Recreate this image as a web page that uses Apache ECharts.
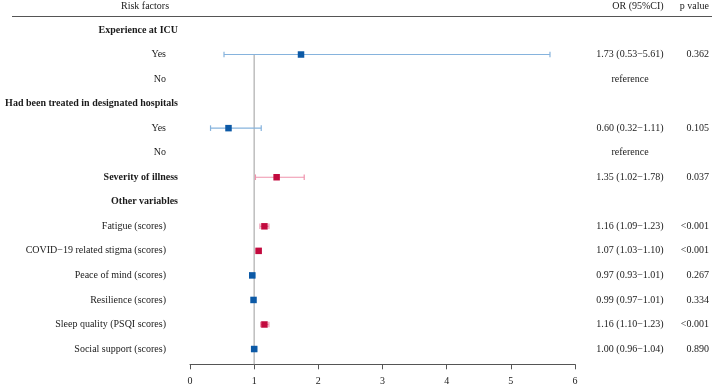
<!DOCTYPE html>
<html>
<head>
<meta charset="utf-8">
<script src="https://cdn.jsdelivr.net/npm/echarts@6/dist/echarts.min.js"></script>
<style>html,body{margin:0;padding:0;background:#fff}#c{width:712px;height:389px}</style>
</head>
<body>
<div id="c"></div>
<script>
// ---- data ----
var rowLabels = ['Experience at ICU', 'Yes', 'No', 'Had been treated in designated hospitals', 'Yes', 'No',
  'Severity of illness', 'Other variables', 'Fatigue (scores)', 'COVID\u221219 related stigma (scores)',
  'Peace of mind (scores)', 'Resilience (scores)', 'Sleep quality (PSQI scores)', 'Social support (scores)'];
var rowBold = [true, false, false, true, false, false, true, true, false, false, false, false, false, false];
var orValues = [null, 1.73, null, null, 0.60, null, 1.35, null, 1.16, 1.07, 0.97, 0.99, 1.16, 1.00];
var ciLower  = [null, 0.53, null, null, 0.32, null, 1.02, null, 1.09, 1.03, 0.93, 0.97, 1.10, 0.96];
var ciUpper  = [null, 5.61, null, null, 1.11, null, 1.78, null, 1.23, 1.10, 1.01, 1.01, 1.23, 1.04];
var orText = ['', '1.73 (0.53\u22125.61)', 'reference', '', '0.60 (0.32\u22121.11)', 'reference',
  '1.35 (1.02\u22121.78)', '', '1.16 (1.09\u22121.23)', '1.07 (1.03\u22121.10)', '0.97 (0.93\u22121.01)',
  '0.99 (0.97\u22121.01)', '1.16 (1.10\u22121.23)', '1.00 (0.96\u22121.04)'];
var pText = ['', '0.362', '', '', '0.105', '', '0.037', '', '<0.001', '<0.001', '0.267', '0.334', '<0.001', '0.890'];
var headerTexts = ['Risk factors', 'OR (95%CI)', 'p value'];
var xTicks = [0, 1, 2, 3, 4, 5, 6];
var refValue = 1;

// ---- styling ----
var FONT = 'Liberation Serif';
var TXT = '#1a1a1a';
var BLUE = '#0c59a6', BLUE_L = '#86b3dd';
var RED = '#c20a3e', RED_L = '#ef93ad';

function isSig(i) {
  var s = pText[i];
  if (!s) return false;
  return parseFloat(s.replace('<', '')) < 0.05;
}

var cats = rowLabels.map(function (_, i) { return String(i); });
var pointData = [], ciData = [];
for (var i = 0; i < rowLabels.length; i++) {
  if (orValues[i] == null) continue;
  var sig = isSig(i);
  pointData.push({ value: [orValues[i], i], itemStyle: { color: sig ? RED : BLUE, opacity: 1 } });
  ciData.push([i, ciLower[i], ciUpper[i], sig ? 1 : 0]);
}

var chart = echarts.init(document.getElementById('c'), null, { renderer: 'canvas' });
var hdrFont = '10px "Liberation Serif"';
var option = {
  animation: false,
  textStyle: { fontFamily: FONT },
  grid: { left: 190, right: 137, top: 17.7, bottom: 27.7, containLabel: false },
  xAxis: {
    type: 'value', min: xTicks[0], max: xTicks[xTicks.length - 1], interval: 1,
    offset: 3,
    axisLine: { show: true, lineStyle: { color: '#555', width: 1 } },
    axisTick: { show: true, length: 5, lineStyle: { color: '#555' } },
    axisLabel: { color: TXT, fontFamily: FONT, fontSize: 10, margin: 12 },
    splitLine: { show: false }
  },
  yAxis: [
    {
      type: 'category', data: cats, inverse: true, position: 'left',
      axisLine: { show: false }, axisTick: { show: false }, splitLine: { show: false },
      axisLabel: {
        interval: 0, margin: 12, align: 'right',
        formatter: function (v) { var k = +v; return rowBold[k] ? '{b|' + rowLabels[k] + '}' : '{r|' + rowLabels[k] + '}'; },
        rich: {
          b: { fontFamily: FONT, fontSize: 10, fontWeight: 'bold', color: TXT },
          r: { fontFamily: FONT, fontSize: 10, color: TXT, padding: [0, 12, 0, 0] }
        }
      }
    },
    {
      type: 'category', data: cats, inverse: true, position: 'right', offset: 0,
      axisLine: { show: false }, axisTick: { show: false }, splitLine: { show: false },
      axisLabel: {
        interval: 0, margin: 55, align: 'center', color: TXT, fontFamily: FONT, fontSize: 10,
        formatter: function (v) { return orText[+v]; }
      }
    },
    {
      type: 'category', data: cats, inverse: true, position: 'right', offset: 0,
      axisLine: { show: false }, axisTick: { show: false }, splitLine: { show: false },
      axisLabel: {
        interval: 0, margin: 134, align: 'right', color: TXT, fontFamily: FONT, fontSize: 10,
        formatter: function (v) { return pText[+v]; }
      }
    }
  ],
  graphic: [
    { type: 'text', x: 145, y: 6, style: { text: headerTexts[0], fill: TXT, font: hdrFont, align: 'center', verticalAlign: 'middle' } },
    { type: 'text', x: 638, y: 6, style: { text: headerTexts[1], fill: TXT, font: hdrFont, align: 'center', verticalAlign: 'middle' } },
    { type: 'text', x: 709, y: 6, style: { text: headerTexts[2], fill: TXT, font: hdrFont, align: 'right', verticalAlign: 'middle' } },
    { type: 'line', shape: { x1: 12, y1: 16.5, x2: 712, y2: 16.5 }, style: { stroke: '#555', lineWidth: 1 } }
  ],
  series: [
    {
      type: 'custom', name: 'ref', silent: true, z: 1,
      data: [[refValue]],
      renderItem: function (params, api) {
        var top = api.coord([api.value(0), 0.5]);
        var cs = params.coordSys;
        return { type: 'line', shape: { x1: top[0], y1: top[1], x2: top[0], y2: cs.y + cs.height + 3 },
          style: { stroke: '#b3b3b3', lineWidth: 1.3 } };
      }
    },
    {
      type: 'custom', name: 'CI', silent: true, z: 2,
      encode: { x: [1, 2], y: 0 },
      data: ciData,
      renderItem: function (params, api) {
        var y = api.value(0), lo = api.value(1), hi = api.value(2), sig = api.value(3);
        var a = api.coord([lo, y]), b = api.coord([hi, y]);
        var st = { stroke: sig ? RED_L : BLUE_L, lineWidth: 1.2 };
        var h = 2.8;
        return { type: 'group', children: [
          { type: 'line', shape: { x1: a[0], y1: a[1], x2: b[0], y2: b[1] }, style: st },
          { type: 'line', shape: { x1: a[0], y1: a[1] - h, x2: a[0], y2: a[1] + h }, style: st },
          { type: 'line', shape: { x1: b[0], y1: b[1] - h, x2: b[0], y2: b[1] + h }, style: st }
        ] };
      }
    },
    {
      type: 'scatter', name: 'OR', z: 3, symbol: 'rect', symbolSize: 6.5,
      itemStyle: { opacity: 1 },
      data: pointData
    }
  ]
};
chart.setOption(option);
</script>
</body>
</html>
